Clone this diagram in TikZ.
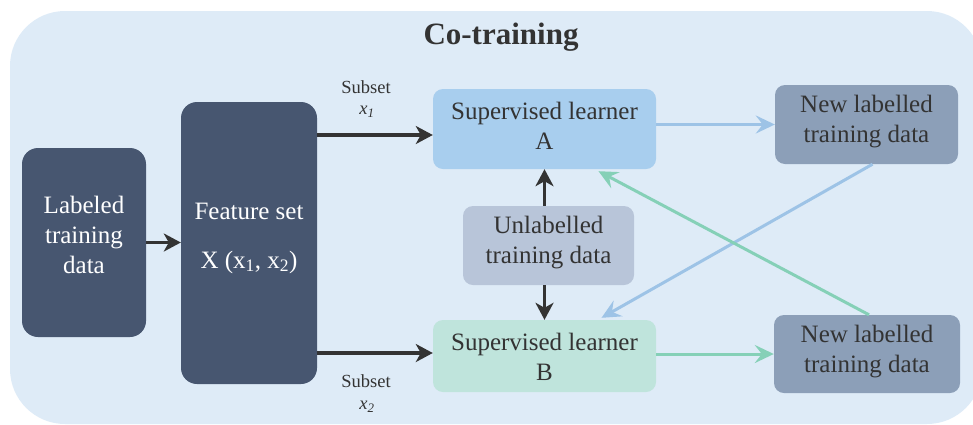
\documentclass[tikz,border=0pt]{standalone}
\usepackage{fontspec}
\setmainfont{Liberation Serif}
\usetikzlibrary{arrows.meta,calc}
\definecolor{bgc}{HTML}{DEEBF7}
\definecolor{darkbox}{HTML}{475670}
\definecolor{boxA}{HTML}{A8CEEE}
\definecolor{boxB}{HTML}{BFE4DC}
\definecolor{unlc}{HTML}{B8C5D9}
\definecolor{newc}{HTML}{8C9FB8}
\definecolor{bluear}{HTML}{9DC3E6}
\definecolor{greenar}{HTML}{85D0B7}
\definecolor{txt}{HTML}{333333}
\begin{document}
\begin{tikzpicture}[x=1pt,y=-1pt,
  bigtext/.style={font=\fontsize{25}{30}\selectfont, align=center},
  darkbox/.style={fill=darkbox, rounded corners=16pt, inner sep=0pt},
  lightbox/.style={rounded corners=10pt, inner sep=0pt, bigtext, text=txt},
  darkarrow/.style={draw=txt, line width=3.2pt, -{Stealth[length=17pt,width=18pt,inset=5pt]}},
  bluearrow/.style={draw=bluear, line width=3pt, -{Stealth[length=19pt,width=18pt,inset=7pt]}},
  greenarrow/.style={draw=greenar, line width=3pt, -{Stealth[length=19pt,width=18pt,inset=7pt]}},
  smalltext/.style={font=\fontsize{18.5}{22}\selectfont, text=txt}
]
\useasboundingbox (0,0) rectangle (973,424);
\fill[bgc, rounded corners=55pt] (10,11) rectangle (982,424);
\node[font=\fontsize{31}{36}\selectfont\bfseries, text=txt] (title) at (501,37) {Co-training};

% left boxes
\node[darkbox, minimum width=124pt, minimum height=189pt] (lab) at (84,242.5) {};
\node[bigtext, text=white] (labt) at (84,235) {Labeled\\training\\data};
\node[darkbox, minimum width=136pt, minimum height=282pt] (feat) at (249,243) {};
\node[bigtext, text=white] (featt1) at (249,211) {Feature set};
\node[bigtext, text=white] (featt2) at (249,262) {X (x\textsubscript{1}, x\textsubscript{2})};

% learners
\node[lightbox, fill=boxA, minimum width=223pt, minimum height=80pt] (A) at (544.5,129) {};
\node[bigtext, text=txt] (At) at (544.5,126) {Supervised learner\\A};
\node[lightbox, fill=boxB, minimum width=223pt, minimum height=72pt] (B) at (544.5,356) {};
\node[bigtext, text=txt] (Bt) at (544.5,357) {Supervised learner\\B};
\node[lightbox, fill=unlc, minimum width=171pt, minimum height=79pt] (unl) at (548.5,245.5) {};
\node[bigtext, text=txt] (unlt) at (548.5,243) {Unlabelled\\training data};

% new labelled
\node[lightbox, fill=newc, minimum width=183pt, minimum height=79pt] (newa) at (866.5,124.5) {};
\node[bigtext, text=txt] (newat) at (866.5,122) {New labelled\\training data};
\node[lightbox, fill=newc, minimum width=186pt, minimum height=78pt] (newb) at (867,354) {};
\node[bigtext, text=txt] (newbt) at (867,352) {New labelled\\training data};

% subset labels
\node[smalltext] (s1) at (366,87) {Subset};
\node[smalltext] (x1) at (367,112) {\textit{x}\textsubscript{\textit{1}}};
\node[smalltext] (s2) at (366,381) {Subset};
\node[smalltext] (x2) at (367,407) {\textit{x}\textsubscript{\textit{2}}};

% connectors
\coordinate (a1) at ([yshift=-6pt]A.west);
\coordinate (b1) at ([yshift=3pt]B.west);
\draw[darkarrow] (lab.east) -- (lab.east -| feat.west);
\draw[darkarrow] (feat.east |- a1) -- (a1);
\draw[darkarrow] (feat.east |- b1) -- (b1);
\draw[darkarrow] (unl.north -| A.south) -- (A.south);
\draw[darkarrow] (unl.south -| B.north) -- (B.north);

\draw[bluearrow] (A.east |- newa.west) -- (newa.west);
\draw[greenarrow] (B.east |- newb.west) -- (newb.west);
\draw[bluearrow] ([xshift=6pt]newa.south) -- ([xshift=57pt,yshift=2pt]B.north);
\draw[greenarrow] ([xshift=2pt]newb.north) -- ([xshift=54pt,yshift=-2pt]A.south);
\end{tikzpicture}
\end{document}
